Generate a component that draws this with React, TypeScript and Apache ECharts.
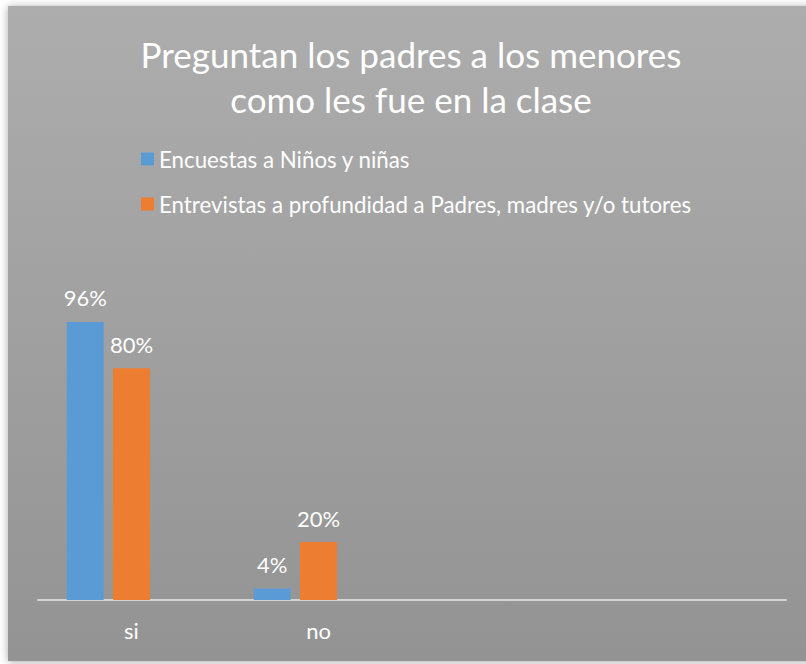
import React, { useEffect, useRef } from "react";
import * as echarts from "echarts";

const titleText = "Preguntan los padres a los menores\ncomo les fue en la clase";
const categories = ["si", "no", "", ""];
const seriesNames = [
  "Encuestas a Niños y niñas",
  "Entrevistas a profundidad a Padres, madres y/o tutores",
];
const ninos = [0.96, 0.04, null, null];
const padres = [0.8, 0.2, null, null];
const emptySeries = [null, null, null, null];

const FONT = "Lato, 'Noto Sans', sans-serif";

export default function App() {
  const ref = useRef<HTMLDivElement>(null);
  useEffect(() => {
    if (!ref.current) return;
    const chart = echarts.init(ref.current, undefined, { renderer: "svg" });
    const label = {
      show: true,
      position: "top" as const,
      distance: 13,
      color: "#ffffff",
      fontSize: 22,
      fontFamily: FONT,
      formatter: (p: any) => Math.round(p.value * 100) + "%",
    };
    chart.setOption({
      animation: false,
      backgroundColor: "#ffffff",
      textStyle: { fontFamily: FONT },
      graphic: [
        {
          type: "rect",
          z: -10,
          shape: { x: 8, y: 6, width: 810, height: 655 },
          style: {
            fill: {
              type: "linear",
              x: 0,
              y: 0,
              x2: 0,
              y2: 1,
              colorStops: [
                { offset: 0, color: "#adadad" },
                { offset: 1, color: "#939393" },
              ],
            },
            shadowBlur: 8,
            shadowColor: "rgba(0,0,0,0.35)",
            shadowOffsetY: 1,
          },
        },
      ],
      title: {
        text: titleText,
        left: 406,
        top: 26,
        textAlign: "center",
        textStyle: {
          color: "#ffffff",
          fontSize: 35,
          fontWeight: "normal",
          fontFamily: FONT,
          lineHeight: 45.6,
        },
      },
      legend: {
        orient: "vertical",
        left: 136,
        top: 142,
        itemWidth: 13,
        itemHeight: 13,
        itemGap: 21,
        icon: "rect",
        data: seriesNames,
        textStyle: {
          color: "#ffffff",
          fontSize: 22.3,
          fontFamily: FONT,
          lineHeight: 24,
        },
      },
      grid: { left: 38, right: 20, top: 310.4, bottom: 64, containLabel: false },
      xAxis: {
        type: "category",
        data: categories,
        axisLine: { show: true, lineStyle: { color: "#d4d4d4", width: 2 } },
        axisTick: { show: false },
        axisLabel: {
          color: "#ffffff",
          fontSize: 22,
          fontFamily: FONT,
          margin: 19,
        },
        splitLine: { show: false },
      },
      yAxis: {
        type: "value",
        min: 0,
        max: 1,
        show: false,
        splitLine: { show: false },
      },
      series: [
        {
          name: seriesNames[0],
          type: "bar",
          data: ninos,
          barWidth: 37,
          barGap: "25%",
          itemStyle: { color: "#5b9bd5" },
          label,
        },
        {
          name: seriesNames[1],
          type: "bar",
          data: padres,
          barWidth: 37,
          barGap: "25%",
          itemStyle: { color: "#ed7d31" },
          label,
        },
        {
          name: "serie3",
          type: "bar",
          data: emptySeries,
          barWidth: 37,
          barGap: "25%",
          itemStyle: { color: "#a5a5a5" },
        },
      ],
    });
    return () => chart.dispose();
  }, []);
  return (
    <div
      ref={ref}
      style={{ position: "fixed", left: 0, top: 0, width: 806, height: 664 }}
    />
  );
}
